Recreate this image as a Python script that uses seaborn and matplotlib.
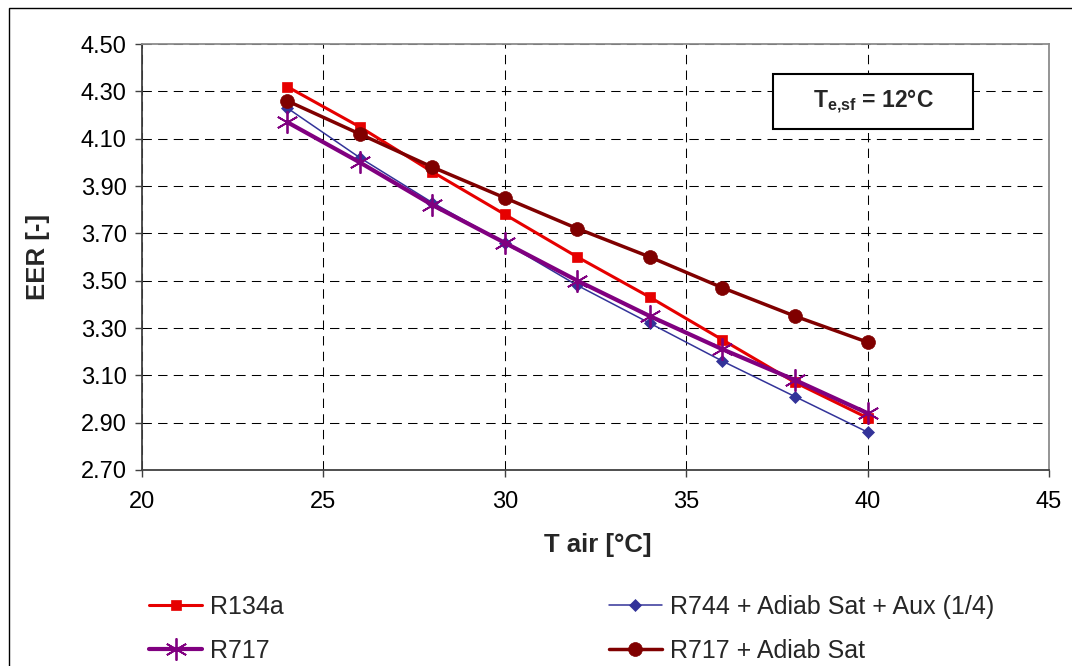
import matplotlib
matplotlib.use("Agg")
import matplotlib.pyplot as plt
from matplotlib.patches import Rectangle
from matplotlib.ticker import FormatStrFormatter
import seaborn as sns
import pandas as pd

# ---- data ----
t_air = [24, 26, 28, 30, 32, 34, 36, 38, 40]
eer_r134a = [4.32, 4.15, 3.96, 3.78, 3.60, 3.43, 3.25, 3.07, 2.92]
eer_r744_aux = [4.23, 4.02, 3.83, 3.66, 3.48, 3.32, 3.16, 3.01, 2.86]
eer_r717 = [4.17, 4.00, 3.82, 3.66, 3.50, 3.35, 3.21, 3.08, 2.94]
eer_r717_adiab = [4.26, 4.12, 3.98, 3.85, 3.72, 3.60, 3.47, 3.35, 3.24]
series_names = ["R134a", "R744 + Adiab Sat + Aux (1/4)", "R717", "R717 + Adiab Sat"]
x_ticks = [20, 25, 30, 35, 40, 45]
y_ticks = [2.70, 2.90, 3.10, 3.30, 3.50, 3.70, 3.90, 4.10, 4.30, 4.50]
x_label = "T air [°C]"
y_label = "EER [-]"
box_text = r"$\mathbf{T_{e{,}sf}}$ = 12°C"

sns.set_style("white")
plt.rcParams["font.family"] = ["Liberation Sans", "DejaVu Sans"]
plt.rcParams["mathtext.fontset"] = "custom"
plt.rcParams["mathtext.rm"] = "Liberation Sans"
plt.rcParams["mathtext.bf"] = "Liberation Sans:bold"
plt.rcParams["mathtext.it"] = "Liberation Sans:italic"

W, H = 1072, 666
fig = plt.figure(figsize=(W / 100, H / 100), dpi=100)
fig.patch.set_facecolor("white")
L, R, T, B = 142, 1049, 44, 470
ax = fig.add_axes([L / W, 1 - B / H, (R - L) / W, (B - T) / H])

# outer chart border (right/bottom edges fall outside the image)
fig.add_artist(Rectangle((8.5 / W, -0.2), 1.3, (H - 7.5) / H + 0.2,
                         transform=fig.transFigure, fill=False,
                         edgecolor="black", linewidth=1.0))

styles = [
    dict(color="#E60000", marker="s", markersize=7, linewidth=2.2, markeredgewidth=0.5, zorder=3),
    dict(color="#333399", marker="D", markersize=6, linewidth=1.1, markeredgewidth=0.5, zorder=4),
    dict(color="#800080", marker=(6, 2, 0), markersize=16, linewidth=3.0, markeredgewidth=1.3, zorder=5),
    dict(color="#800000", marker="o", markersize=10, linewidth=2.5, markeredgewidth=0.5, zorder=6),
]
values = [eer_r134a, eer_r744_aux, eer_r717, eer_r717_adiab]
for name, vals, st in zip(series_names, values, styles):
    df = pd.DataFrame({"t": t_air, "eer": vals})
    sns.lineplot(data=df, x="t", y="eer", ax=ax, label=name,
                 markeredgecolor=st["color"], markerfacecolor=st["color"], **st)

ax.set_xlim(x_ticks[0], x_ticks[-1])
ax.set_ylim(y_ticks[0], y_ticks[-1])
ax.set_xticks(x_ticks)
ax.set_yticks(y_ticks)
ax.yaxis.set_major_formatter(FormatStrFormatter("%.2f"))
ax.grid(True, color="black", linestyle=(0, (9, 6)), linewidth=0.75)
ax.set_axisbelow(True)
ax.tick_params(axis="both", direction="out", length=5, width=1.0, color="#404040",
               labelsize=17, labelcolor="black", left=True, bottom=True)
ax.tick_params(axis="y", pad=6)
ax.tick_params(axis="x", pad=10)
for s in ["left", "bottom"]:
    ax.spines[s].set_color("#404040")
    ax.spines[s].set_linewidth(1.3)
for s in ["top", "right"]:
    ax.spines[s].set_color("#8c8c8c")
    ax.spines[s].set_linewidth(1.3)

ax.set_xlabel(x_label, fontsize=18.5, fontweight="bold", va="center")
ax.xaxis.set_label_coords((598 - L) / (R - L), (B - 545) / (B - T))
ax.set_ylabel(y_label, fontsize=18.5, fontweight="bold", va="center")
ax.yaxis.set_label_coords((38 - L) / (R - L), 0.5)

# annotation box
bx0, by0, bx1, by1 = 773, 74, 973, 129
ax.add_patch(Rectangle(((bx0 - L) / (R - L), (B - by1) / (B - T)),
                       (bx1 - bx0) / (R - L), (by1 - by0) / (B - T),
                       transform=ax.transAxes, facecolor="white",
                       edgecolor="black", linewidth=1.5, zorder=7))
ax.text(((bx0 + bx1) / 2 - L) / (R - L), (B - (by0 + by1) / 2) / (B - T), box_text,
        transform=ax.transAxes, ha="center", va="center", fontsize=16.5,
        fontweight="bold", zorder=8)

handles, labels = ax.get_legend_handles_labels()
ax.get_legend().remove()
order = [0, 2, 1, 3]
fig.legend([handles[i] for i in order], [labels[i] for i in order], ncol=2,
           loc="upper left", bbox_to_anchor=(149 / W, 1 - 595 / H),
           frameon=False, fontsize=18, borderpad=0, borderaxespad=0,
           handlelength=2.12, handletextpad=0.32, labelspacing=0.78,
           columnspacing=13.0)

fig.savefig("out.png", dpi=100, facecolor="white")
